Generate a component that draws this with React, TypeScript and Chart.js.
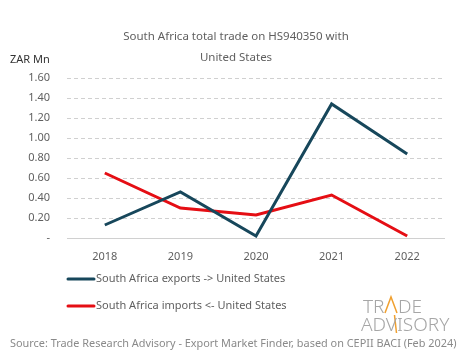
import React, { useEffect, useRef } from "react";
import { Chart, registerables } from "chart.js";
Chart.register(...registerables);

const years = ["2018", "2019", "2020", "2021", "2022"];
const exportsZar = [0.13, 0.46, 0.02, 1.34, 0.84];
const importsZar = [0.65, 0.30, 0.23, 0.43, 0.02];
const titleLines = ["South Africa total trade on HS940350 with", "United States"];
const unitLabel = "ZAR Mn";
const sourceText = "Source: Trade Research Advisory - Export Market Finder, based on CEPII BACI (Feb 2024)";
const exportsLabel = "South Africa exports -> United States";
const importsLabel = "South Africa imports <- United States";

const FONT = "'Noto Sans', sans-serif";
const GRAY = "#5f5f5f";

const gridPlugin = {
  id: "dashGrid",
  beforeDatasetsDraw(chart: any) {
    const ctx = chart.ctx as CanvasRenderingContext2D;
    const area = chart.chartArea;
    const y = chart.scales.y;
    ctx.save();
    ctx.strokeStyle = "#d0d0d0";
    ctx.lineWidth = 1;
    ctx.setLineDash([4, 3]);
    y.ticks.forEach((t: any) => {
      if (t.value === 0) return;
      const py = Math.round(y.getPixelForValue(t.value)) + 0.5;
      ctx.beginPath();
      ctx.moveTo(area.left, py);
      ctx.lineTo(area.right, py);
      ctx.stroke();
    });
    ctx.setLineDash([]);
    const p0 = Math.round(y.getPixelForValue(0)) + 0.5;
    ctx.beginPath();
    ctx.moveTo(area.left, p0);
    ctx.lineTo(area.right, p0);
    ctx.stroke();
    ctx.restore();
  },
};

const decorPlugin = {
  id: "decor",
  afterDraw(chart: any) {
    const ctx = chart.ctx as CanvasRenderingContext2D;
    const area = chart.chartArea;
    ctx.save();
    ctx.fillStyle = GRAY;
    ctx.font = `11.5px ${FONT}`;
    ctx.textAlign = "center";
    ctx.textBaseline = "middle";
    ctx.fillText(titleLines[0], 236, 37);
    ctx.fillText(titleLines[1], 236, 58);
    ctx.fillStyle = "#333";
    ctx.font = `11px ${FONT}`;
    ctx.textAlign = "left";
    ctx.fillText(unitLabel, 10, 60);
    const ds = chart.data.datasets;
    const ys = [279, 306];
    ds.forEach((d: any, i: number) => {
      ctx.strokeStyle = d.borderColor;
      ctx.lineWidth = 3;
      ctx.lineCap = "round";
      ctx.beginPath();
      ctx.moveTo(area.left + 1, ys[i]);
      ctx.lineTo(area.left + 27, ys[i]);
      ctx.stroke();
      ctx.fillStyle = GRAY;
      ctx.font = `11px ${FONT}`;
      ctx.textAlign = "left";
      ctx.fillText(d.label, area.left + 29, ys[i]);
    });
    ctx.fillStyle = "#8a8a8a";
    ctx.font = `10.9px ${FONT}`;
    ctx.textAlign = "left";
    ctx.fillText(sourceText, 10, 344);
    ctx.fillStyle = "#a6a6a6";
    ctx.font = `300 19px ${FONT}`;
    ctx.textBaseline = "alphabetic";
    ctx.fillText("TR", 363, 313);
    const trw = ctx.measureText("TR").width;
    const ax = 363 + trw;
    ctx.strokeStyle = "#f0a030";
    ctx.lineWidth = 1.5;
    ctx.lineCap = "butt";
    ctx.beginPath();
    ctx.moveTo(ax + 0.5, 313);
    ctx.lineTo(ax + 6.5, 297);
    ctx.lineTo(ax + 12.5, 313);
    ctx.stroke();
    ctx.beginPath();
    ctx.moveTo(ax + 10, 315);
    ctx.lineTo(ax + 12, 333);
    ctx.stroke();
    ctx.fillText("DE", ax + 13.5, 313);
    ctx.fillText("ADVISORY", 361, 331);
    ctx.restore();
  },
};

export default function App() {
  const ref = useRef<HTMLCanvasElement>(null);
  useEffect(() => {
    if (!ref.current) return;
    const chart = new Chart(ref.current, {
      type: "line",
      data: {
        labels: years,
        datasets: [
          {
            label: exportsLabel,
            data: exportsZar,
            borderColor: "#17475b",
            backgroundColor: "#17475b",
            borderWidth: 3,
            pointRadius: 0,
            tension: 0,
          },
          {
            label: importsLabel,
            data: importsZar,
            borderColor: "#e50e14",
            backgroundColor: "#e50e14",
            borderWidth: 3,
            pointRadius: 0,
            tension: 0,
          },
        ],
      },
      options: {
        animation: false,
        responsive: false,
        layout: { padding: { left: 0, right: 20, top: 78, bottom: 95 } },
        plugins: { legend: { display: false }, title: { display: false }, tooltip: { enabled: false } },
        scales: {
          x: {
            offset: true,
            grid: { display: false, drawTicks: false },
            border: { display: false },
            ticks: { color: GRAY, font: { family: "'Noto Sans', sans-serif", size: 11 }, padding: 12 },
            afterFit(scale: any) {
              scale.height = 26;
            },
          },
          y: {
            min: 0,
            max: 1.6,
            ticks: {
              stepSize: 0.2,
              color: GRAY,
              font: { family: "'Noto Sans', sans-serif", size: 11 },
              padding: 17,
              callback: (v: any) => (Number(v) === 0 ? "-" : Number(v).toFixed(2)),
            },
            grid: { display: false, drawTicks: false },
            border: { display: false },
            afterFit(scale: any) {
              scale.width = 67;
            },
          },
        },
      },
      plugins: [gridPlugin, decorPlugin],
    });
    return () => chart.destroy();
  }, []);
  return (
    <div style={{ position: "absolute", left: 0, top: 0, width: 465, height: 359, background: "#fff" }}>
      <canvas ref={ref} width={465} height={359} style={{ display: "block" }} />
    </div>
  );
}
